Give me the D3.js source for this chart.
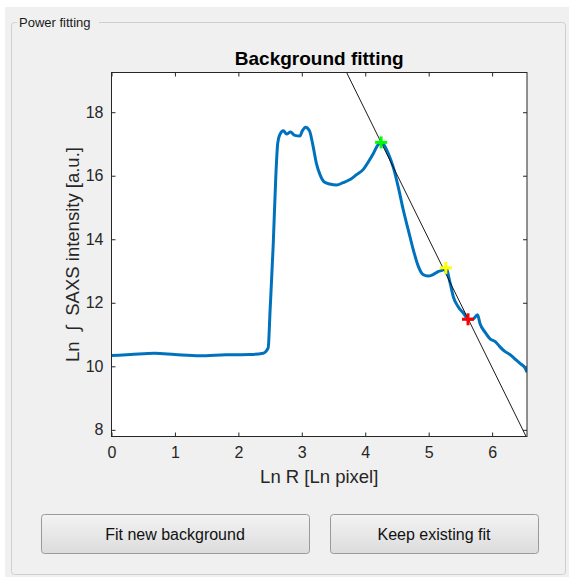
<!DOCTYPE html>
<html><head><meta charset="utf-8">
<script src="https://cdn.jsdelivr.net/npm/d3@7"></script>
<style>
html,body{margin:0;padding:0;background:#ffffff;}
svg{display:block;}
text{font-family:"Liberation Sans",Arial,sans-serif;white-space:pre;}
</style></head>
<body>
<svg id="chart" width="571" height="577"></svg>
<script>
// ---- data ----
const curveX = [0, 0.3, 0.68, 1.0, 1.39, 1.8, 2.18, 2.39, 2.47, 2.50, 2.55, 2.59, 2.62, 2.65, 2.71, 2.76, 2.82, 2.89, 2.97, 3.01, 3.06, 3.12, 3.18, 3.23, 3.29, 3.35, 3.44, 3.55, 3.65, 3.76, 3.86, 3.97, 4.05, 4.13, 4.20, 4.26, 4.36, 4.44, 4.52, 4.60, 4.68, 4.76, 4.84, 4.91, 4.99, 5.07, 5.15, 5.23, 5.27, 5.34, 5.39, 5.47, 5.55, 5.62, 5.70, 5.77, 5.81, 5.89, 5.97, 6.05, 6.12, 6.20, 6.28, 6.36, 6.44, 6.52, 6.55];
const curveY = [10.34, 10.37, 10.41, 10.37, 10.33, 10.36, 10.37, 10.41, 10.58, 11.76, 13.86, 15.97, 17.02, 17.28, 17.42, 17.31, 17.38, 17.27, 17.25, 17.42, 17.53, 17.42, 16.91, 16.39, 16.02, 15.81, 15.74, 15.71, 15.78, 15.88, 16.03, 16.2, 16.44, 16.71, 16.97, 17.05, 16.71, 16.28, 15.65, 14.92, 14.28, 13.65, 13.13, 12.89, 12.84, 12.89, 12.98, 13.04, 13.1, 12.6, 12.18, 11.86, 11.67, 11.48, 11.49, 11.62, 11.34, 11.07, 10.86, 10.78, 10.62, 10.47, 10.37, 10.23, 10.09, 9.95, 9.81];
const fitSlope = -4.05;
const fitIntercept = 34.26;
const markerX = [4.25, 5.27, 5.62];
const markerY = [17.05, 13.1, 11.48];
const markerColors = ["#00ff00", "#ffff00", "#ff0000"];
const xTicks = [0, 1, 2, 3, 4, 5, 6];
const yTicks = [8, 10, 12, 14, 16, 18];
const xDomain = [0, 6.55];
const yDomain = [7.79, 19.25];
const titleText = "Background fitting";
const xLabelText = "Ln R [Ln pixel]";
const yLabelText = "Ln  \u222B  SAXS intensity [a.u.]";
const panelTitle = "Power fitting";
const buttonLabels = ["Fit new background", "Keep existing fit"];

// ---- layout ----
const svg = d3.select("#chart");
const plot = {left: 111.5, top: 72.5, right: 527, bottom: 436.5};

const defs = svg.append("defs");
const grad = defs.append("linearGradient").attr("id","btn").attr("x1",0).attr("y1",0).attr("x2",0).attr("y2",1);
grad.append("stop").attr("offset","0%").attr("stop-color","#f3f3f3");
grad.append("stop").attr("offset","100%").attr("stop-color","#dcdcdc");
defs.append("clipPath").attr("id","clip").append("rect")
  .attr("x",plot.left).attr("y",plot.top).attr("width",plot.right-plot.left).attr("height",plot.bottom-plot.top);

// window background
svg.append("rect").attr("x",5).attr("y",7).attr("width",564).attr("height",570).attr("fill","#f0f0f0");
// group box
svg.append("rect").attr("x",11.5).attr("y",22.5).attr("width",554).attr("height",552).attr("rx",3)
  .attr("fill","none").attr("stroke","#cfcfcf").attr("stroke-width",1);
svg.append("rect").attr("x",17).attr("y",14).attr("width",82).attr("height",16).attr("fill","#f0f0f0");
svg.append("text").attr("x",19).attr("y",27).attr("font-size",13).attr("fill","#1a1a1a").text(panelTitle);

// plot area
svg.append("rect").attr("x",plot.left).attr("y",plot.top).attr("width",plot.right-plot.left)
  .attr("height",plot.bottom-plot.top).attr("fill","#ffffff");

const x = d3.scaleLinear().domain(xDomain).range([plot.left, plot.right]);
const y = d3.scaleLinear().domain(yDomain).range([plot.bottom, plot.top]);

const axisColor = "#262626";
function styleAxis(g, showLabels){
  g.select(".domain").remove();
  g.selectAll(".tick line").attr("stroke",axisColor);
  g.selectAll(".tick text").attr("fill",axisColor).attr("font-size",16)
    .attr("font-family","'Liberation Sans',Arial,sans-serif");
  if(!showLabels) g.selectAll(".tick text").remove();
}
svg.append("g").attr("transform",`translate(0,${plot.bottom})`)
  .call(d3.axisBottom(x).tickValues(xTicks).tickSize(-4).tickPadding(10).tickFormat(d3.format("d")))
  .call(g=>styleAxis(g,true));
svg.append("g").attr("transform",`translate(0,${plot.top})`)
  .call(d3.axisTop(x).tickValues(xTicks).tickSize(-4))
  .call(g=>styleAxis(g,false));
svg.append("g").attr("transform",`translate(${plot.left},0)`)
  .call(d3.axisLeft(y).tickValues(yTicks).tickSize(-4).tickPadding(8).tickFormat(d3.format("d")))
  .call(g=>styleAxis(g,true));
svg.append("g").attr("transform",`translate(${plot.right},0)`)
  .call(d3.axisRight(y).tickValues(yTicks).tickSize(-4))
  .call(g=>styleAxis(g,false));

const content = svg.append("g").attr("clip-path","url(#clip)");

// data curve
const pts = curveX.map((v,i)=>[v, curveY[i]]);
content.append("path").datum(pts)
  .attr("fill","none").attr("stroke","#0072bd").attr("stroke-width",3).attr("stroke-linejoin","round")
  .attr("d", d3.line().x(d=>x(d[0])).y(d=>y(d[1])).curve(d3.curveMonotoneX));

// fit line
const fitPts = xDomain.map(v=>[v, fitIntercept + fitSlope*v]);
content.append("path").datum(fitPts)
  .attr("fill","none").attr("stroke","#000").attr("stroke-width",0.9)
  .attr("d", d3.line().x(d=>x(d[0])).y(d=>y(d[1])));

// markers
const ms = 6;
markerX.forEach((v,i)=>{
  const cx = x(v), cy = y(markerY[i]);
  const g = svg.append("g").attr("stroke",markerColors[i]).attr("stroke-width",3);
  g.append("line").attr("x1",cx-ms).attr("x2",cx+ms).attr("y1",cy).attr("y2",cy);
  g.append("line").attr("x1",cx).attr("x2",cx).attr("y1",cy-ms).attr("y2",cy+ms);
});

// box
svg.append("rect").attr("x",plot.left).attr("y",plot.top).attr("width",plot.right-plot.left)
  .attr("height",plot.bottom-plot.top).attr("fill","none").attr("stroke",axisColor).attr("stroke-width",1);

// title and labels
svg.append("text").attr("x",(plot.left+plot.right)/2).attr("y",65).attr("text-anchor","middle")
  .attr("font-size",19).attr("font-weight","bold").attr("fill","#000").text(titleText);
svg.append("text").attr("x",(plot.left+plot.right)/2).attr("y",483).attr("text-anchor","middle")
  .attr("font-size",18.5).attr("fill",axisColor).text(xLabelText);
svg.append("text").attr("transform",`translate(79,${(plot.top+plot.bottom)/2}) rotate(-90)`)
  .attr("text-anchor","middle").attr("font-size",18.5).attr("fill",axisColor).text(yLabelText);

// buttons
const buttons = [{x:41,w:268},{x:330,w:208}];
buttons.forEach((b,i)=>{
  svg.append("rect").attr("x",b.x+0.5).attr("y",514.5).attr("width",b.w).attr("height",39).attr("rx",3)
    .attr("fill","url(#btn)").attr("stroke","#9a9a9a");
  svg.append("text").attr("x",b.x+b.w/2).attr("y",540).attr("text-anchor","middle")
    .attr("font-size",16).attr("fill","#111").text(buttonLabels[i]);
});
</script>
</body></html>
